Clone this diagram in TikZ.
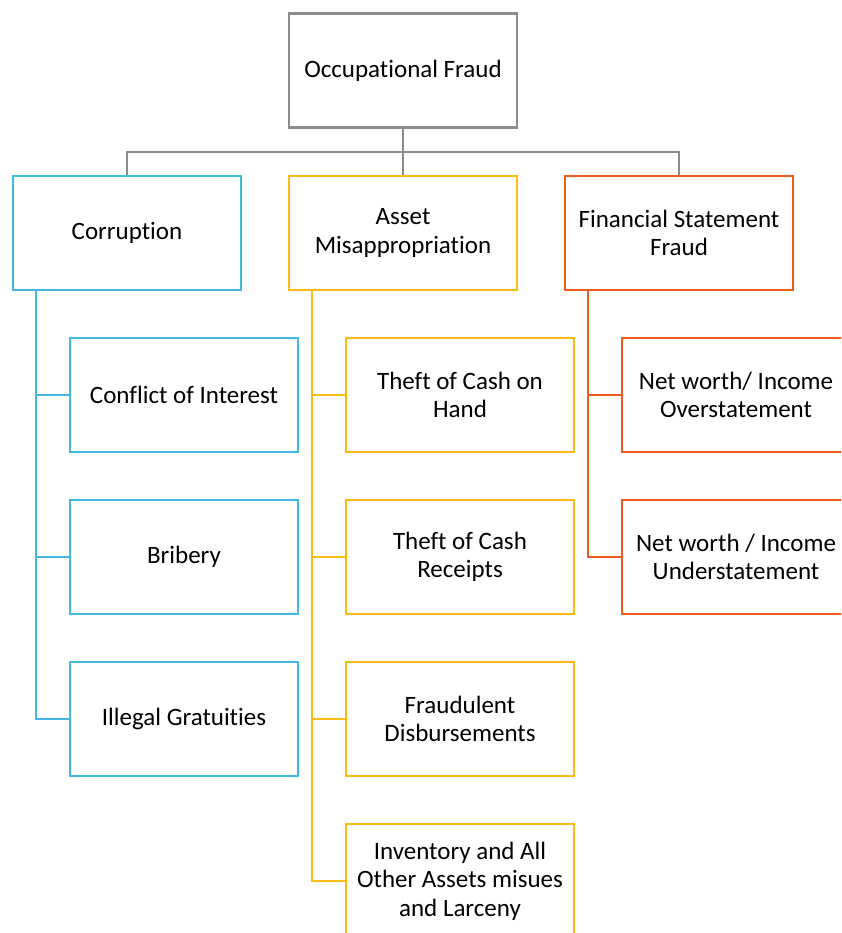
\documentclass[tikz,border=0pt]{standalone}
\usepackage{fontspec}
\setmainfont{Carlito}[Ligatures={NoCommon}]
\definecolor{rootgray}{HTML}{8C8C8C}
\definecolor{corrblue}{HTML}{41B8E4}
\definecolor{assetgold}{HTML}{FFBA14}
\definecolor{fsforange}{HTML}{EE5A18}
\begin{document}
\begin{tikzpicture}[x=1pt,y=-1pt,
  box/.style={draw, line width=2.8pt, rectangle, minimum width=228pt, minimum height=114pt,
    align=center, inner sep=2pt, font=\fontsize{25}{28.5}\selectfont, fill=white},
  link/.style={line width=2.8pt}]
\clip (0,0) rectangle (841,933);
\fill[white] (0,0) rectangle (841,933);

% root and first level
\node[box, draw=rootgray] (root) at (403,70.5) {Occupational Fraud};
\node[box, draw=corrblue] (corr) at (127,233) {Corruption};
\node[box, draw=assetgold] (asset) at (403,233) {Asset\\Misappropriation};
\node[box, draw=fsforange] (fsf) at (679,233) {Financial Statement\\Fraud};

\coordinate (bus) at (403,152);
\draw[link, rootgray] (root.south) -- (asset.north);
\draw[link, rootgray] (corr.north) |- (bus) -| (fsf.north);

% corruption branch
\node[box, draw=corrblue] (c1) at (184,395) {Conflict of Interest};
\node[box, draw=corrblue] (c2) at (184,557) {Bribery};
\node[box, draw=corrblue] (c3) at (184,719) {Illegal Gratuities};
\coordinate (cspine) at (36,290);
\draw[link, corrblue] (cspine) |- (c3.west);
\draw[link, corrblue] (c1.west) -- (c1.west -| cspine);
\draw[link, corrblue] (c2.west) -- (c2.west -| cspine);

% asset misappropriation branch
\node[box, draw=assetgold] (a1) at (460,395) {Theft of Cash on\\Hand};
\node[box, draw=assetgold] (a2) at (460,557) {Theft of Cash\\Receipts};
\node[box, draw=assetgold] (a3) at (460,719) {Fraudulent\\Disbursements};
\node[box, draw=assetgold] (a4) at (460,881) {Inventory and All\\Other Assets misues\\and Larceny};
\coordinate (aspine) at (312,290);
\draw[link, assetgold] (aspine) |- (a4.west);
\draw[link, assetgold] (a1.west) -- (a1.west -| aspine);
\draw[link, assetgold] (a2.west) -- (a2.west -| aspine);
\draw[link, assetgold] (a3.west) -- (a3.west -| aspine);

% financial statement fraud branch
\node[box, draw=fsforange] (f1) at (736,395) {Net worth/ Income\\Overstatement};
\node[box, draw=fsforange] (f2) at (736,557) {Net worth / Income\\Understatement};
\coordinate (fspine) at (588,290);
\draw[link, fsforange] (fspine) |- (f2.west);
\draw[link, fsforange] (f1.west) -- (f1.west -| fspine);
\end{tikzpicture}
\end{document}
